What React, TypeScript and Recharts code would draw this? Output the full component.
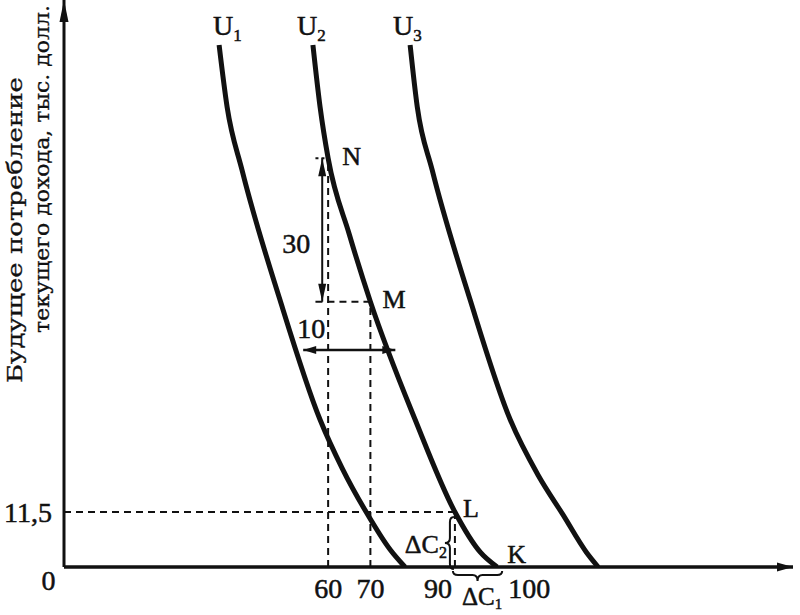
import React from 'react';
import { LineChart, Line, XAxis, YAxis, ReferenceLine, ReferenceDot } from 'recharts';

// current consumption (x) and future consumption (y)
const u1Cur = [34.2, 36.1, 39.6, 48.6, 58.1, 63.3, 69.0, 74.7, 78.2];
const u1Fut = [109.2, 96.2, 83.1, 55.9, 30.8, 20.7, 11.5, 3.6, 0];
const u2Cur = [56.4, 58.1, 60, 65, 70, 80.6, 90, 96.0, 100];
const u2Fut = [109.2, 96.2, 85.5, 69.6, 55.5, 30.8, 11.5, 3.1, 0];
const u3Cur = [79.4, 81.1, 84.6, 93.6, 103.1, 109.7, 115.6, 121.1, 123.9];
const u3Fut = [109.2, 96.2, 83.1, 55.9, 30.8, 19.2, 10.9, 3.1, 0];

const xTicks = [60, 70, 90, 100];
const yTicks = [0, 11.5];
const yTickLabels = ['0', '11,5'];

const xMin = -2.5;
const xMax = 170;
const yMax = 118.6;

const rows = (xs: number[], ys: number[]) => xs.map((x, i) => ({ x, y: ys[i] }));
const u1 = rows(u1Cur, u1Fut);
const u2 = rows(u2Cur, u2Fut);
const u3 = rows(u3Cur, u3Fut);

const pointN = { x: u2Cur[2], y: u2Fut[2] };
const pointM = { x: u2Cur[4], y: u2Fut[4] };
const pointL = { x: u2Cur[6], y: u2Fut[6] };
const pointK = { x: u2Cur[8], y: u2Fut[8] };

// annotation positions (arrows "30" and "10", dashed stubs)
const arrow30X = 58.6;
const arrow10Y = 45.4;
const arrow10From = 54.1;
const arrow10To = 75.9;
const stubFrom = 57.0;

const ink = '#111';
const serif = "'Liberation Serif', 'Times New Roman', serif";
const heavy = { stroke: ink, strokeWidth: 0.5 };

const xTickAnchor: Record<number, string> = { 60: 'middle', 70: 'middle', 90: 'end', 100: 'start' };
const xTickShift: Record<number, number> = { 60: 0, 70: 0, 90: -3, 100: 11 };

function XTick(props: any) {
  const { x, y, payload } = props;
  const v = payload.value;
  return (
    <text x={x + (xTickShift[v] ?? 0)} y={y + 31} textAnchor={xTickAnchor[v] ?? 'middle'}
      fontFamily={serif} fontSize={28} fill={ink} {...heavy}>{String(v)}</text>
  );
}

function YTick(props: any) {
  const { x, y, payload } = props;
  const i = yTicks.indexOf(payload.value);
  if (i === 0) {
    return <text x={x - 15.5} y={y + 23} textAnchor="middle" fontFamily={serif} fontSize={28} fill={ink} {...heavy}>{yTickLabels[i]}</text>;
  }
  return <text x={x - 12} y={y + 10} textAnchor="end" fontFamily={serif} fontSize={28} fill={ink} {...heavy}>{yTickLabels[i]}</text>;
}

const arrowShape = (width: number, head: number, half: number, start: boolean, end: boolean) => (p: any) => {
  const { x1, y1, x2, y2 } = p;
  const len = Math.hypot(x2 - x1, y2 - y1) || 1;
  const ux = (x2 - x1) / len;
  const uy = (y2 - y1) / len;
  const nx = -uy;
  const ny = ux;
  const tri = (tx: number, ty: number, dir: number) => {
    const bx = tx - dir * ux * head;
    const by = ty - dir * uy * head;
    return `${tx},${ty} ${bx + nx * half},${by + ny * half} ${bx - nx * half},${by - ny * half}`;
  };
  return (
    <g>
      <line x1={x1} y1={y1} x2={x2} y2={y2} stroke={ink} strokeWidth={width} />
      {end && <polygon points={tri(x2, y2, 1)} fill={ink} />}
      {start && <polygon points={tri(x1, y1, -1)} fill={ink} />}
    </g>
  );
};

// curly brace, vertical (tip to the left) or horizontal (tip down)
const braceShape = (vertical: boolean) => (p: any) => {
  const { x1, y1, x2, y2 } = p;
  let d: string;
  if (vertical) {
    const e = x1 - 1;
    const s = e - 4;
    const t = e - 9;
    const top = Math.min(y1, y2) + 5;
    const bot = Math.max(y1, y2) + 2;
    const m = (top + bot) / 2;
    d = `M${e},${top} Q${s},${top} ${s},${top + 5} L${s},${m - 5} Q${s},${m} ${t},${m} Q${s},${m} ${s},${m + 5} L${s},${bot - 5} Q${s},${bot} ${e},${bot}`;
  } else {
    const e = y1 + 4;
    const s = e + 4;
    const t = e + 10;
    const l = Math.min(x1, x2) - 2;
    const r = Math.max(x1, x2) + 5;
    const m = (l + r) / 2;
    d = `M${l},${e} Q${l},${s} ${l + 5},${s} L${m - 5},${s} Q${m},${s} ${m},${t} Q${m},${s} ${m + 5},${s} L${r - 5},${s} Q${r},${s} ${r},${e}`;
  }
  return <path d={d} fill="none" stroke={ink} strokeWidth={2} />;
};

const textDot = (key: string, x: number, y: number, dx: number, dy: number, content: React.ReactNode,
  anchor: string = 'start', size: number = 26) => (
  <ReferenceDot key={key} x={x} y={y} r={0} ifOverflow="visible"
    shape={(p: any) => (
      <text x={p.cx + dx} y={p.cy + dy} textAnchor={anchor} fontFamily={serif} fontSize={size} fill={ink} {...heavy}>{content}</text>
    )} />
);

const uLabel = (n: string) => (
  <>U<tspan fontSize={17} dy={6}>{n}</tspan></>
);

const dash = { stroke: ink, strokeWidth: 2, strokeDasharray: '7 5', ifOverflow: 'visible' as const };

export default function App() {
  return (
    <div style={{ position: 'absolute', left: 0, top: 0, background: '#fff' }}>
      <LineChart width={800} height={615} margin={{ top: 0, right: 7, bottom: 18, left: 0 }}>
        <XAxis type="number" dataKey="x" domain={[xMin, xMax]} allowDataOverflow ticks={xTicks} interval={0}
          tick={XTick} tickLine={false} axisLine={false} tickSize={0} tickMargin={0} height={30} />
        <YAxis type="number" domain={[0, yMax]} allowDataOverflow ticks={yTicks} interval={0}
          tick={YTick} tickLine={false} axisLine={false} tickSize={0} tickMargin={0} width={64} />

        <ReferenceLine segment={[{ x: xMin, y: pointL.y }, { x: pointL.x, y: pointL.y }]} {...dash} />
        <ReferenceLine segment={[{ x: pointL.x, y: 0 }, { x: pointL.x, y: pointL.y }]} {...dash} />
        <ReferenceLine segment={[{ x: pointN.x, y: 0 }, { x: pointN.x, y: pointN.y }]} {...dash} />
        <ReferenceLine segment={[{ x: pointM.x, y: 0 }, { x: pointM.x, y: pointM.y }]} {...dash} />
        <ReferenceLine segment={[{ x: stubFrom, y: pointM.y }, { x: pointM.x, y: pointM.y }]} {...dash} />
        <ReferenceLine segment={[{ x: stubFrom, y: pointN.y }, { x: pointN.x, y: pointN.y }]} {...dash} strokeDasharray="3 3" />

        <ReferenceLine segment={[{ x: arrow30X, y: pointN.y }, { x: arrow30X, y: pointM.y }]} ifOverflow="visible"
          shape={arrowShape(2, 18, 4, true, true)} />
        <ReferenceLine segment={[{ x: arrow10From, y: arrow10Y }, { x: arrow10To, y: arrow10Y }]} ifOverflow="visible"
          shape={arrowShape(2.5, 13, 4, true, true)} />

        <ReferenceLine segment={[{ x: pointL.x, y: 0 }, { x: pointL.x, y: pointL.y }]} ifOverflow="visible"
          shape={braceShape(true)} />
        <ReferenceLine segment={[{ x: pointL.x, y: 0 }, { x: pointK.x, y: 0 }]} ifOverflow="visible"
          shape={braceShape(false)} />

        <Line data={u1} dataKey="y" type="monotone" stroke={ink} strokeWidth={5} dot={false} isAnimationActive={false} />
        <Line data={u2} dataKey="y" type="monotone" stroke={ink} strokeWidth={5} dot={false} isAnimationActive={false} />
        <Line data={u3} dataKey="y" type="monotone" stroke={ink} strokeWidth={5} dot={false} isAnimationActive={false} />

        <ReferenceLine segment={[{ x: xMin, y: 0 }, { x: xMax, y: 0 }]} ifOverflow="visible"
          shape={arrowShape(3.5, 16, 4.5, false, true)} />
        <ReferenceLine segment={[{ x: xMin, y: 0 }, { x: xMin, y: yMax }]} ifOverflow="visible"
          shape={arrowShape(3, 22, 4.5, false, true)} />

        {textDot('u1', u1Cur[0], u1Fut[0], -6, -10, uLabel('1'), 'start', 28)}
        {textDot('u2', u2Cur[0], u2Fut[0], -16, -10, uLabel('2'), 'start', 28)}
        {textDot('u3', u3Cur[0], u3Fut[0], -17, -10, uLabel('3'), 'start', 28)}
        {textDot('n', pointN.x, pointN.y, 14, 7, 'N')}
        {textDot('m', pointM.x, pointM.y, 12, 6, 'M')}
        {textDot('l', pointL.x, pointL.y, 8, 5, 'L')}
        {textDot('k', pointK.x, pointK.y, 10, -4, 'K')}
        {textDot('t30', arrow30X, (pointN.y + pointM.y) / 2, -12, 23, '30', 'end', 28)}
        {textDot('t10', arrow10From, arrow10Y, -6, -12, '10', 'start', 28)}
        {textDot('dc2', pointL.x, 0, -8, -14, <>ΔC<tspan fontSize={16} dy={5}>2</tspan></>, 'end', 26)}
        {textDot('dc1', (pointL.x + pointK.x) / 2, 0, 6, 38, <>ΔC<tspan fontSize={15} dy={4}>1</tspan></>, 'middle', 25)}

        <ReferenceDot x={xMin} y={0} r={0} ifOverflow="visible"
          shape={(p: any) => {
            const ax = p.cx - 42, ay = p.cy - 337;
            const bx = p.cx - 15, by = p.cy - 398;
            return (
              <g fontFamily="'DejaVu Serif', serif" fontSize={21} fill={ink} stroke={ink} strokeWidth={0.3}>
                <text x={ax} y={ay} textAnchor="middle" transform={`rotate(-90 ${ax} ${ay})`}
                  textLength={306} lengthAdjust="spacingAndGlyphs">Будущее потребление</text>
                <text x={bx} y={by} textAnchor="middle" transform={`rotate(-90 ${bx} ${by})`}
                  textLength={328} lengthAdjust="spacingAndGlyphs">текущего дохода, тыс. долл.</text>
              </g>
            );
          }} />
      </LineChart>
    </div>
  );
}
